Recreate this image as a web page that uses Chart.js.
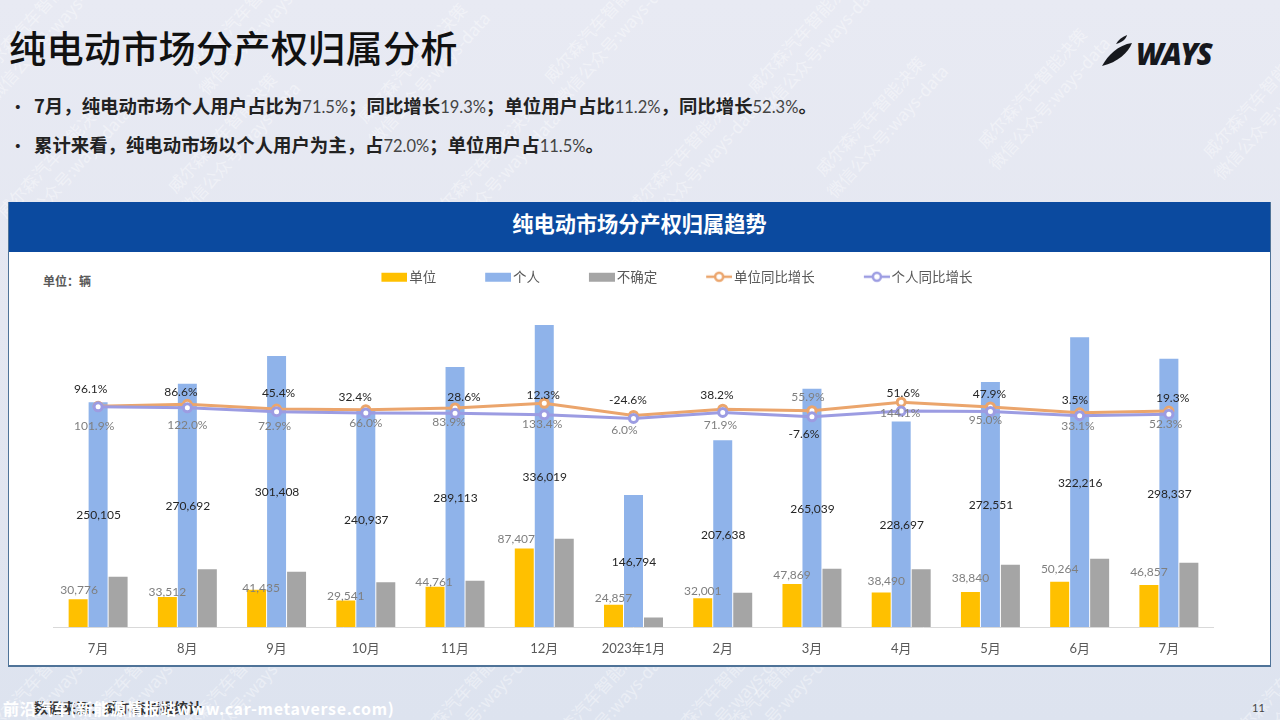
<!DOCTYPE html>
<html lang="zh"><head><meta charset="utf-8">
<script src="https://cdn.jsdelivr.net/npm/chart.js@4/dist/chart.umd.min.js"></script>
<style>
html,body{margin:0;padding:0;width:1280px;height:720px;overflow:hidden;font-family:"Noto Sans CJK SC",sans-serif}
#slide{position:absolute;inset:0;background:linear-gradient(180deg,#e8eaf3 0%,#e4e7f1 45%,#dde3ef 100%);overflow:hidden}
.wm{position:absolute;color:#fff;opacity:.38;font-size:17px;line-height:23px;white-space:nowrap;text-align:center;transform:translate(-50%,-50%) rotate(-48deg)}
h1{position:absolute;left:9px;top:20px;margin:0;font-size:37.2px;line-height:54px;font-weight:500;color:#111;letter-spacing:.2px}
.b{position:absolute;left:10px;font-size:18.4px;line-height:24px;font-weight:700;color:#222;white-space:nowrap}
.b i{font-style:normal;display:inline-block;width:24px;font-size:15.6px}
.b span{font-family:"Lato",sans-serif;font-weight:400;color:#444;font-size:16.5px}
#panel{position:absolute;left:8px;top:202px;width:1263px;height:465px;box-sizing:border-box;background:#fff;border:1px solid #4f7398;border-top:none;border-bottom-width:2px}
#phead{position:absolute;left:0;top:0;width:100%;height:50px;background:#0b4a9f;color:#fff;font-size:21.2px;font-weight:700;line-height:42px;text-align:center}
#unit{position:absolute;left:43px;top:272px;font-size:12px;font-weight:700;line-height:18px;color:#595959}
#src{position:absolute;left:34px;top:698px;font-size:14px;line-height:18px;font-weight:700;color:#333}
#site{position:absolute;left:3px;top:698px;font-size:16px;line-height:20px;font-weight:700;color:#fff;letter-spacing:.7px;white-space:nowrap}
#page{position:absolute;left:1252px;top:700px;font-family:Lato,sans-serif;font-size:11px;line-height:16px;color:#444}
#logo{position:absolute;left:1100px;top:33px}
#ways{position:absolute;left:1136px;top:35px;font:italic 800 29.5px/38px "Open Sans",sans-serif;letter-spacing:-1.6px;color:#16181d}
canvas{position:absolute;left:0;top:0}
</style></head><body>
<div id="slide">
 <div id="wms"></div>
 <h1>纯电动市场分产权归属分析</h1>
 <div class="b" style="top:93px"><i>•</i>7月，纯电动市场个人用户占比为<span>71.5%</span>；同比增长<span>19.3%</span>；单位用户占比<span>11.2%</span>，同比增长<span>52.3%</span>。</div>
 <div class="b" style="top:132px"><i>•</i>累计来看，纯电动市场以个人用户为主，占<span>72.0%</span>；单位用户占<span>11.5%</span>。</div>
 <svg id="logo" width="36" height="36" viewBox="0 0 36 36"><path d="M2 33 C8 22 18 12 32 10 C28 20 18 29 2 33Z" fill="#16181d"/><path d="M16 11 C18 7 22 4 27 2 C26 6 23 9 16 11Z" fill="#16181d"/></svg>
 <div id="ways">WAYS</div>
 <div id="panel"><div id="phead">纯电动市场分产权归属趋势</div></div>
 <div id="unit">单位：辆</div>
 <div id="src">数据来源：威尔森情报统计</div>
 <div id="site">前沿汽车(新能源情报站www.car-metaverse.com)</div>
 <div id="page">11</div>
 <canvas id="c" width="1280" height="720"></canvas>
</div>
<script>
const months=['7月','8月','9月','10月','11月','12月','2023年1月','2月','3月','4月','5月','6月','7月'];
const unitVals=[30776,33512,41435,29541,44761,87407,24857,32001,47869,38490,38840,50264,46857];
const personVals=[250105,270692,301408,240937,289113,336019,146794,207638,265039,228697,272551,322216,298337];
const unknownVals=[56000,64200,61500,49700,51500,98300,10500,38200,64900,64200,69300,76000,71600];
const unitGrowth=[101.9,122.0,72.9,66.0,83.9,133.4,6.0,71.9,55.9,144.1,95.0,33.1,52.3];
const personGrowth=[96.1,86.6,45.4,32.4,28.6,12.3,-24.6,38.2,-7.6,51.6,47.9,3.5,19.3];

// label nudges relative to each mark (annotation placement in the source slide)
const unitBarDx=[1,0,4.5,0,-1,-8,0,0,0,5,0,0,0];
const unitBarDy=[-9,-5,-2,-4.5,-5,-9.5,-7,-7,-9,-11.5,-14,-13,-13];
const unitLineDx=[-4,0,-2,0,-6,-2,-9,-2.4,-4,-1,-5,-1.7,-3.3];
const unitLineDy=[19.4,20.6,17,13.2,14.6,20.7,14.5,15.8,-14,11,13,13,13];
const personLineDx=[-7.4,-6.5,2,-10.7,9,-1,-5.5,-5.7,-8,2,-1,-4.7,3.7];
const personLineDy=[-18,-15.5,-18.7,-16,-16.4,-20,-18.5,-17.4,17.2,-18.2,-17.8,-15.8,-16.2];

const wmSpots=[[40,25],[250,20],[606,30],[810,40],[1040,95],[1265,105],[60,165],[230,140],[420,70],[878,123],[690,160],[490,170],
 [40,690],[130,690],[235,690],[470,700],[600,705],[720,700],[770,700],[1290,690]];
const wmHost=document.getElementById('wms');
wmSpots.forEach(p=>{const d=document.createElement('div');d.className='wm';d.style.left=p[0]+'px';d.style.top=p[1]+'px';d.innerHTML='威尔森汽车智能决策<br>微信公众号:ways-data';wmHost.appendChild(d);});

function swatch(draw){const c=document.createElement('canvas');c.width=80;c.height=14;draw(c.getContext('2d'));return c;}
function barSwatch(col){return swatch(g=>{g.fillStyle=col;g.fillRect(54,3,26,9);});}
function lineSwatch(col){return swatch(g=>{g.strokeStyle=col;g.lineWidth=2.5;g.beginPath();g.moveTo(54,7);g.lineTo(80,7);g.stroke();g.fillStyle='#fff';g.lineWidth=2.5;g.beginPath();g.arc(67,7,4,0,Math.PI*2);g.fill();g.stroke();});}

const fontLatin='Lato,"Noto Sans CJK SC",sans-serif';
const markLabels={id:'markLabels',afterDatasetsDraw(chart){
 const g=chart.ctx;g.save();g.textAlign='center';g.textBaseline='middle';g.font='12px '+fontLatin;
 const fmtN=v=>v.toLocaleString('en-US'), fmtP=v=>v.toFixed(1)+'%';
 chart.getDatasetMeta(0).data.forEach((el,i)=>{g.fillStyle='#7f7f7f';g.fillText(fmtN(unitVals[i]),el.x+unitBarDx[i],el.y+unitBarDy[i]);});
 chart.getDatasetMeta(1).data.forEach((el,i)=>{g.fillStyle='#262626';g.fillText(fmtN(personVals[i]),el.x+0.5,(el.y+el.base)/2+1);});
 chart.getDatasetMeta(3).data.forEach((el,i)=>{g.fillStyle='#7f7f7f';g.fillText(fmtP(unitGrowth[i]),el.x+unitLineDx[i],el.y+unitLineDy[i]);});
 chart.getDatasetMeta(4).data.forEach((el,i)=>{g.fillStyle='#262626';g.fillText(fmtP(personGrowth[i]),el.x+personLineDx[i],el.y+personLineDy[i]);});
 g.restore();
}};

const barOpts={barPercentage:.95,categoryPercentage:.672,order:3,yAxisID:'y'};
const lineOpts={type:'line',yAxisID:'y1',borderWidth:3,pointRadius:4,pointHoverRadius:4,pointBorderWidth:3,pointBackgroundColor:'#fff',tension:0};
new Chart(document.getElementById('c'),{
 type:'bar',
 data:{labels:months,datasets:[
  {label:'单位',data:unitVals,backgroundColor:'#FFC000',...barOpts},
  {label:'个人',data:personVals,backgroundColor:'#8FB3EA',...barOpts},
  {label:'不确定',data:unknownVals,backgroundColor:'#A5A5A5',...barOpts},
  {label:'单位同比增长',data:unitGrowth,borderColor:'#EBA56C',pointBorderColor:'#EBA56C',order:2,...lineOpts},
  {label:'个人同比增长',data:personGrowth,borderColor:'#9C9CE2',pointBorderColor:'#9C9CE2',order:1,...lineOpts}
 ]},
 plugins:[markLabels],
 options:{
  responsive:false,animation:false,devicePixelRatio:1,
  layout:{padding:{left:53.5,right:28.5,top:270,bottom:61}},
  plugins:{tooltip:{enabled:false},
   legend:{position:'top',align:'center',labels:{
    usePointStyle:true,pointStyleWidth:70,padding:0,color:'#595959',font:{size:13.5,family:'"Noto Sans CJK SC",sans-serif'},
    generateLabels(chart){return chart.data.datasets.map((d,i)=>({text:d.label,datasetIndex:i,fontColor:'#595959',lineWidth:0,
      pointStyle:i<3?barSwatch(d.backgroundColor):lineSwatch(d.borderColor)}));}
   }}},
  scales:{
   x:{grid:{display:false},border:{color:'#d9d9d9',width:1},
      ticks:{color:'#595959',padding:6,maxRotation:0,autoSkip:false,font:{size:13,family:fontLatin}},
      afterFit(s){s.height=32;}},
   y:{display:false,min:0,max:371000},
   y1:{position:'right',min:-2200,max:1278,grid:{display:false},border:{display:false},ticks:{display:false},afterFit(s){s.width=38;}}
  }
 }
});
</script>
</body></html>
